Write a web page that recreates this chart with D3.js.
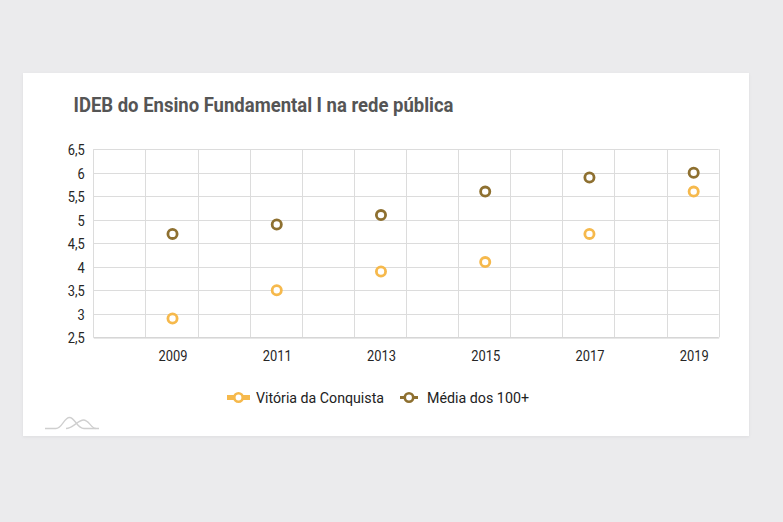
<!DOCTYPE html>
<html>
<head>
<meta charset="utf-8">
<script src="https://cdn.jsdelivr.net/npm/d3@7"></script>
<style>
  html, body { margin: 0; padding: 0; background: #ebebed; }
  svg { display: block; }
  text { font-family: Roboto, "Noto Sans", sans-serif; }
</style>
</head>
<body>
<svg id="chart" width="783" height="522"></svg>
<script>
// ---- data ----
const years = [2009, 2011, 2013, 2015, 2017, 2019];
const vitoria = [2.9, 3.5, 3.9, 4.1, 4.7, 5.6];
const media100 = [4.7, 4.9, 5.1, 5.6, 5.9, 6.0];
const yTicks = [2.5, 3, 3.5, 4, 4.5, 5, 5.5, 6, 6.5];
const seriesNames = ["Vitória da Conquista", "Média dos 100+"];
const title = "IDEB do Ensino Fundamental I na rede pública";

const colors = ["#f6b94c", "#8e7030"];

const svg = d3.select("#chart");

// card
const defs = svg.append("defs");
const f = defs.append("filter").attr("id", "sh").attr("x", "-5%").attr("y", "-5%").attr("width", "110%").attr("height", "115%");
f.append("feDropShadow").attr("dx", 0).attr("dy", 1).attr("stdDeviation", 1.5).attr("flood-color", "#000").attr("flood-opacity", 0.06);
svg.append("rect").attr("x", 23).attr("y", 73).attr("width", 726).attr("height", 363)
  .attr("fill", "#fff").attr("filter", "url(#sh)");

// title
svg.append("text").attr("x", 73.5).attr("y", 111.5)
  .attr("font-size", 19.5).attr("font-weight", 700).attr("fill", "#555555")
  .attr("textLength", 380).attr("lengthAdjust", "spacingAndGlyphs")
  .text(title);

// scales
const pLeft = 93.3, pRight = 718.7, pTop = 149.3, pBottom = 337.3;
const x = d3.scaleLinear().domain([2007.48, 2019.48]).range([pLeft, pRight]);
const y = d3.scaleLinear().domain([2.5, 6.5]).range([pBottom, pTop]);

const grid = svg.append("g");
// horizontal grid
grid.selectAll("line.h").data(yTicks).join("line")
  .attr("x1", pLeft).attr("x2", pRight)
  .attr("y1", d => Math.round(y(d)) + 0.5).attr("y2", d => Math.round(y(d)) + 0.5)
  .attr("stroke", "#dcdcdc").attr("stroke-width", 1);
// vertical grid
const xd = x.domain();
grid.selectAll("line.v").data(d3.range(xd[0], xd[1] + 0.001, 1)).join("line")
  .attr("x1", d => Math.round(x(d)) + 0.5).attr("x2", d => Math.round(x(d)) + 0.5)
  .attr("y1", pTop).attr("y2", pBottom)
  .attr("stroke", "#dcdcdc").attr("stroke-width", 1);

// axes
const fmt = d => String(d).replace(".", ",");
const yAxis = svg.append("g").attr("transform", `translate(${pLeft},0)`)
  .call(d3.axisLeft(y).tickValues(yTicks).tickFormat(fmt).tickSize(0).tickPadding(10));
yAxis.select(".domain").remove();
yAxis.selectAll("text").attr("font-size", 15).attr("fill", "#262626")
  .attr("font-family", "Roboto").attr("transform", "scale(0.86,1)").attr("dy", "0.36em");

const xAxis = svg.append("g").attr("transform", `translate(0,${Math.round(pBottom) + 0.5})`)
  .call(d3.axisBottom(x).tickValues(years).tickFormat(d3.format("d")).tickSize(0).tickPadding(13));
xAxis.select(".domain").attr("stroke", "#d0d0d0");
xAxis.selectAll("text").attr("font-size", 15).attr("fill", "#262626")
  .attr("font-family", "Roboto").attr("transform", "scale(0.86,1)");

// points
[vitoria, media100].forEach((vals, si) => {
  svg.append("g").selectAll("circle").data(years.map((yr, i) => [yr, vals[i]])).join("circle")
    .attr("cx", d => x(d[0])).attr("cy", d => y(d[1])).attr("r", 4.6)
    .attr("fill", "#fff").attr("stroke", colors[si]).attr("stroke-width", 2.8);
});

// legend
const legend = svg.append("g");
const items = [
  {name: seriesNames[0], color: colors[0], x0: 227, x1: 250, lw: 5, tx: 256, tw: 128},
  {name: seriesNames[1], color: colors[1], x0: 400, x1: 418, lw: 3, tx: 427, tw: 102}
];
items.forEach(it => {
  const ly = 397.5;
  legend.append("line").attr("x1", it.x0).attr("x2", it.x1).attr("y1", ly).attr("y2", ly)
    .attr("stroke", it.color).attr("stroke-width", it.lw);
  legend.append("circle").attr("cx", (it.x0 + it.x1) / 2).attr("cy", ly).attr("r", 4.2)
    .attr("fill", "#fff").attr("stroke", it.color).attr("stroke-width", 2.6);
  legend.append("text").attr("x", it.tx).attr("y", ly + 5.5).attr("font-size", 15)
    .attr("fill", "#222").attr("textLength", it.tw).attr("lengthAdjust", "spacingAndGlyphs")
    .text(it.name);
});

// logo (decorative)
const logo = svg.append("g").attr("fill", "none").attr("stroke", "#cfcfcf").attr("stroke-width", 1.3);
logo.append("path").attr("d", "M45,428.5 L56,428.5 C62,428.5 64,417.5 69.5,417.5 C75,417.5 77,428.5 84,428.5 L99,428.5");
logo.append("path").attr("d", "M66,428.5 C73,428.5 78,420 83.5,420 C89,420 91,428.5 96,428.5");
</script>
</body>
</html>
